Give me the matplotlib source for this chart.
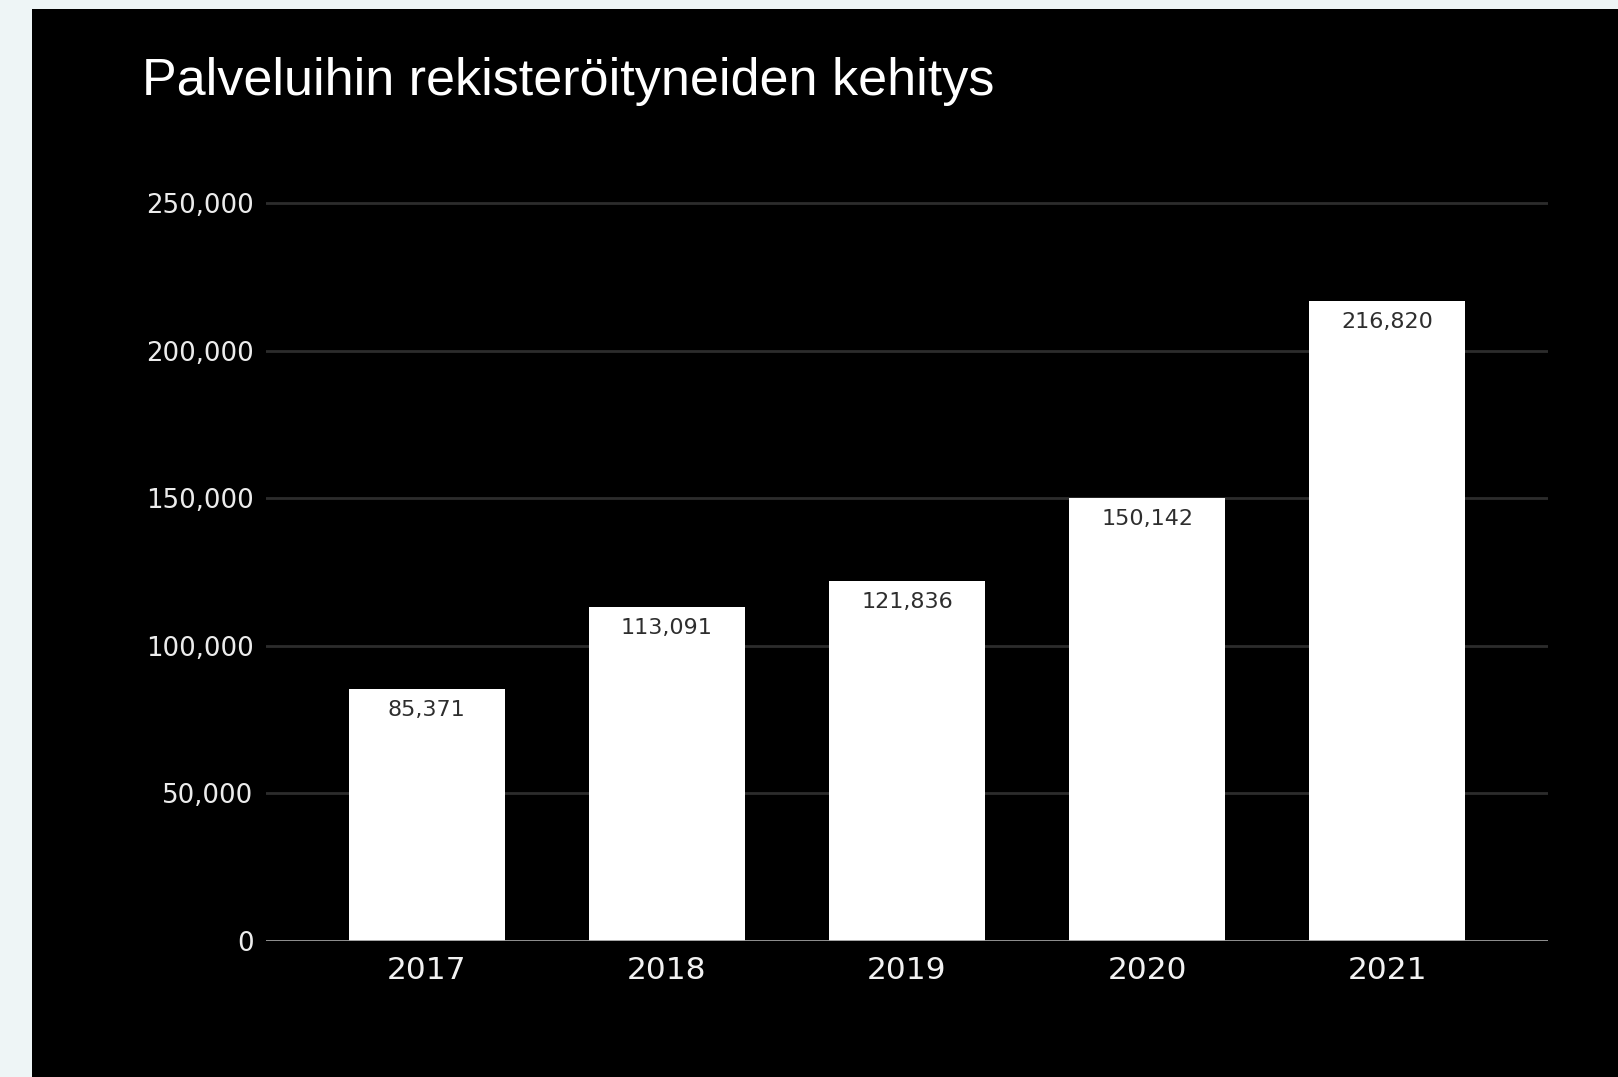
import matplotlib
matplotlib.use("Agg")
import matplotlib.pyplot as plt

years = ["2017", "2018", "2019", "2020", "2021"]
registered = [85371, 113091, 121836, 150142, 216820]
y_ticks = [0, 50000, 100000, 150000, 200000, 250000]
title = "Palveluihin rekisteröityneiden kehitys"

W, H = 1618, 1077
fig = plt.figure(figsize=(W / 100, H / 100), dpi=100)
fig.patch.set_facecolor("#eef5f6")

# black slide panel behind the chart
panel = fig.add_axes([32 / W, 0, 1 - 32 / W, (H - 9) / H], zorder=0)
panel.set_facecolor("black")
panel.set_xticks([])
panel.set_yticks([])
for s in panel.spines.values():
    s.set_visible(False)

ax = fig.add_axes([266 / W, 136 / H, (1548 - 266) / W, (880 - 136) / H], zorder=1)
ax.set_facecolor("none")

x = range(len(years))
bars = ax.bar(x, registered, width=0.647, color="white", zorder=3)
for b, v in zip(bars, registered):
    ax.annotate(f"{v:,}", (b.get_x() + b.get_width() / 2, v),
                xytext=(0, -15), textcoords="offset points",
                ha="center", va="center", fontsize=16, fontweight="medium",
                color="#2e2e2e", zorder=4)

ax.set_xlim(-0.67, 4.67)
ax.set_ylim(0, 252000)
ax.set_yticks(y_ticks)
ax.set_yticklabels([f"{t:,}" for t in y_ticks])
ax.set_xticks(list(x))
ax.set_xticklabels(years)

ax.grid(axis="y", color="#2c2c2c", linewidth=2, zorder=1)
ax.set_axisbelow(True)
ax.axhline(0, color="#9a9a9a", linewidth=2, zorder=5)
for s in ax.spines.values():
    s.set_visible(False)
ax.tick_params(axis="y", length=0, pad=9, labelsize=18.7, labelcolor="#ececec")
ax.tick_params(axis="x", length=0, pad=11, labelsize=22.5, labelcolor="#f2f2f2")

fig.text(142 / W, 1 - 81 / H, title, fontsize=37.5, color="white",
         family="Liberation Sans", ha="left", va="center", zorder=2)

fig.savefig("out.png", dpi=100, facecolor=fig.get_facecolor())
